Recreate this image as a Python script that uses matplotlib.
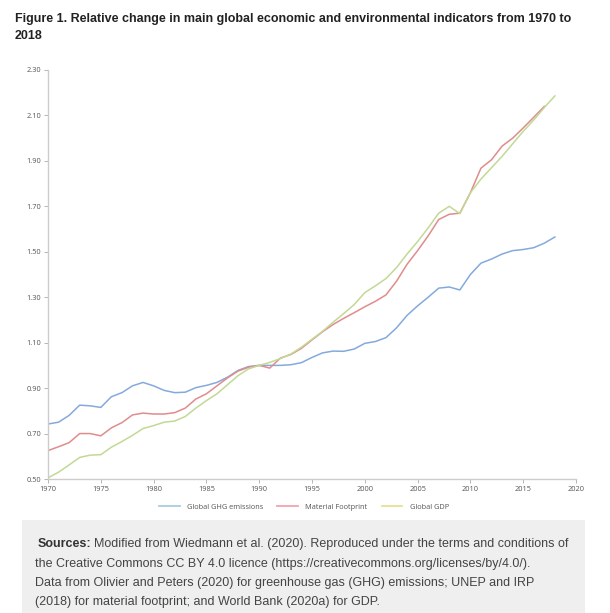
import matplotlib
matplotlib.use("Agg")
import matplotlib.pyplot as plt
from matplotlib.lines import Line2D
from matplotlib.patches import Rectangle

years = list(range(1970, 2019))
ghg = [0.742, 0.750, 0.780, 0.825, 0.822, 0.815, 0.862, 0.880, 0.910, 0.925,
       0.910, 0.890, 0.880, 0.882, 0.902, 0.912, 0.925, 0.948, 0.978, 0.995,
       1.000, 1.000, 1.000, 1.003, 1.012, 1.035, 1.055, 1.063, 1.062, 1.072,
       1.097, 1.105, 1.122, 1.165, 1.220, 1.262, 1.300, 1.340, 1.345, 1.332,
       1.400, 1.450, 1.468, 1.490, 1.505, 1.510, 1.518, 1.538, 1.565]
material_years = list(range(1970, 2018))
material = [0.625, 0.642, 0.660, 0.700, 0.700, 0.690, 0.725, 0.748, 0.782, 0.790,
            0.786, 0.786, 0.792, 0.812, 0.852, 0.875, 0.910, 0.945, 0.975, 0.992,
            1.000, 0.988, 1.032, 1.048, 1.075, 1.112, 1.148, 1.180, 1.207, 1.232,
            1.258, 1.282, 1.310, 1.370, 1.445, 1.505, 1.570, 1.642, 1.665, 1.670,
            1.760, 1.868, 1.905, 1.965, 2.000, 2.045, 2.092, 2.140]
gdp = [0.505, 0.530, 0.562, 0.595, 0.605, 0.607, 0.640, 0.665, 0.692, 0.722,
       0.735, 0.750, 0.755, 0.775, 0.812, 0.845, 0.875, 0.915, 0.955, 0.985,
       1.000, 1.013, 1.030, 1.050, 1.080, 1.115, 1.150, 1.190, 1.228, 1.268,
       1.320, 1.350, 1.382, 1.430, 1.490, 1.545, 1.605, 1.670, 1.700, 1.668,
       1.760, 1.820, 1.870, 1.920, 1.975, 2.030, 2.080, 2.135, 2.186]
series_names = ["Global GHG emissions", "Material Footprint", "Global GDP"]
xticks = [1970, 1975, 1980, 1985, 1990, 1995, 2000, 2005, 2010, 2015, 2020]
yticks = [0.50, 0.70, 0.90, 1.10, 1.30, 1.50, 1.70, 1.90, 2.10, 2.30]

title_lines = ["Figure 1. Relative change in main global economic and environmental indicators from 1970 to",
               "2018"]
src_first = "Modified from Wiedmann et al. (2020). Reproduced under the terms and conditions of"
src_lines = [
    "the Creative Commons CC BY 4.0 licence (https://creativecommons.org/licenses/by/4.0/).",
    "Data from Olivier and Peters (2020) for greenhouse gas (GHG) emissions; UNEP and IRP",
    "(2018) for material footprint; and World Bank (2020a) for GDP.",
]

W, H = 610, 613
fig = plt.figure(figsize=(W / 100, H / 100), dpi=100)

def fx(px):
    return px / W

def fy(py):
    return 1 - py / H

# Title
fig.text(fx(15), fy(22), title_lines[0], fontsize=9, fontweight="bold",
         family="Liberation Sans", color="#222222", va="baseline")
fig.text(fx(15), fy(39), title_lines[1], fontsize=9, fontweight="bold",
         family="Liberation Sans", color="#222222", va="baseline")

# Axes
ax = fig.add_axes([fx(48), fy(479), (576 - 48) / W, (479 - 70) / H])
line_cols = ["#84aadd", "#e08c8c", "#c2d995"]
ax.plot(years, ghg, color=line_cols[0], lw=1.1, solid_joinstyle="round")
ax.plot(material_years, material, color=line_cols[1], lw=1.1, solid_joinstyle="round")
ax.plot(years, gdp, color=line_cols[2], lw=1.1, solid_joinstyle="round")
ax.set_xlim(1970, 2020)
ax.set_ylim(0.5, 2.3)
ax.set_xticks(xticks)
ax.set_xticklabels([str(x) for x in xticks])
ax.set_yticks(yticks)
ax.set_yticklabels([f"{y:.2f}" for y in yticks])
for s in ["top", "right"]:
    ax.spines[s].set_visible(False)
for s in ["left", "bottom"]:
    ax.spines[s].set_color("#cccccc")
    ax.spines[s].set_linewidth(1.0)
ax.tick_params(axis="both", length=3, width=0.6, color="#aaaaaa", labelsize=5.3,
               labelcolor="#555555", pad=2)
for lab in ax.get_xticklabels() + ax.get_yticklabels():
    lab.set_family("Open Sans")

# Legend
leg_cols = ["#a9cbe4", "#f2a3b1", "#e2e391"]
handles = [Line2D([0], [0], color=c, lw=1.3) for c in leg_cols]
fig.legend(handles, series_names, loc="center", bbox_to_anchor=(fx(304), fy(507)),
           ncol=3, frameon=False, prop={"family": "Open Sans", "size": 5.3},
           handlelength=2.8, columnspacing=1.9, handletextpad=1.0, labelcolor="#555555")

# Sources box
fig.patches.append(Rectangle((fx(22), fy(613)), (585 - 22) / W, (613 - 520) / H,
                             transform=fig.transFigure, facecolor="#efefef",
                             edgecolor="none", zorder=0))
t1 = fig.text(fx(38), fy(547), "Sources:", fontsize=9, fontweight="bold",
              family="Liberation Sans", color="#333333", va="baseline")
fig.canvas.draw()
bb = t1.get_window_extent()
fig.text((bb.x1 + 2) / W, fy(547), src_first,
         fontsize=9, family="Liberation Sans", color="#444444", va="baseline")
for i, ln in enumerate(src_lines):
    fig.text(fx(35), fy(566.5 + 19.5 * i), ln, fontsize=9, family="Liberation Sans",
             color="#444444", va="baseline")

fig.savefig("out.png", dpi=100)
